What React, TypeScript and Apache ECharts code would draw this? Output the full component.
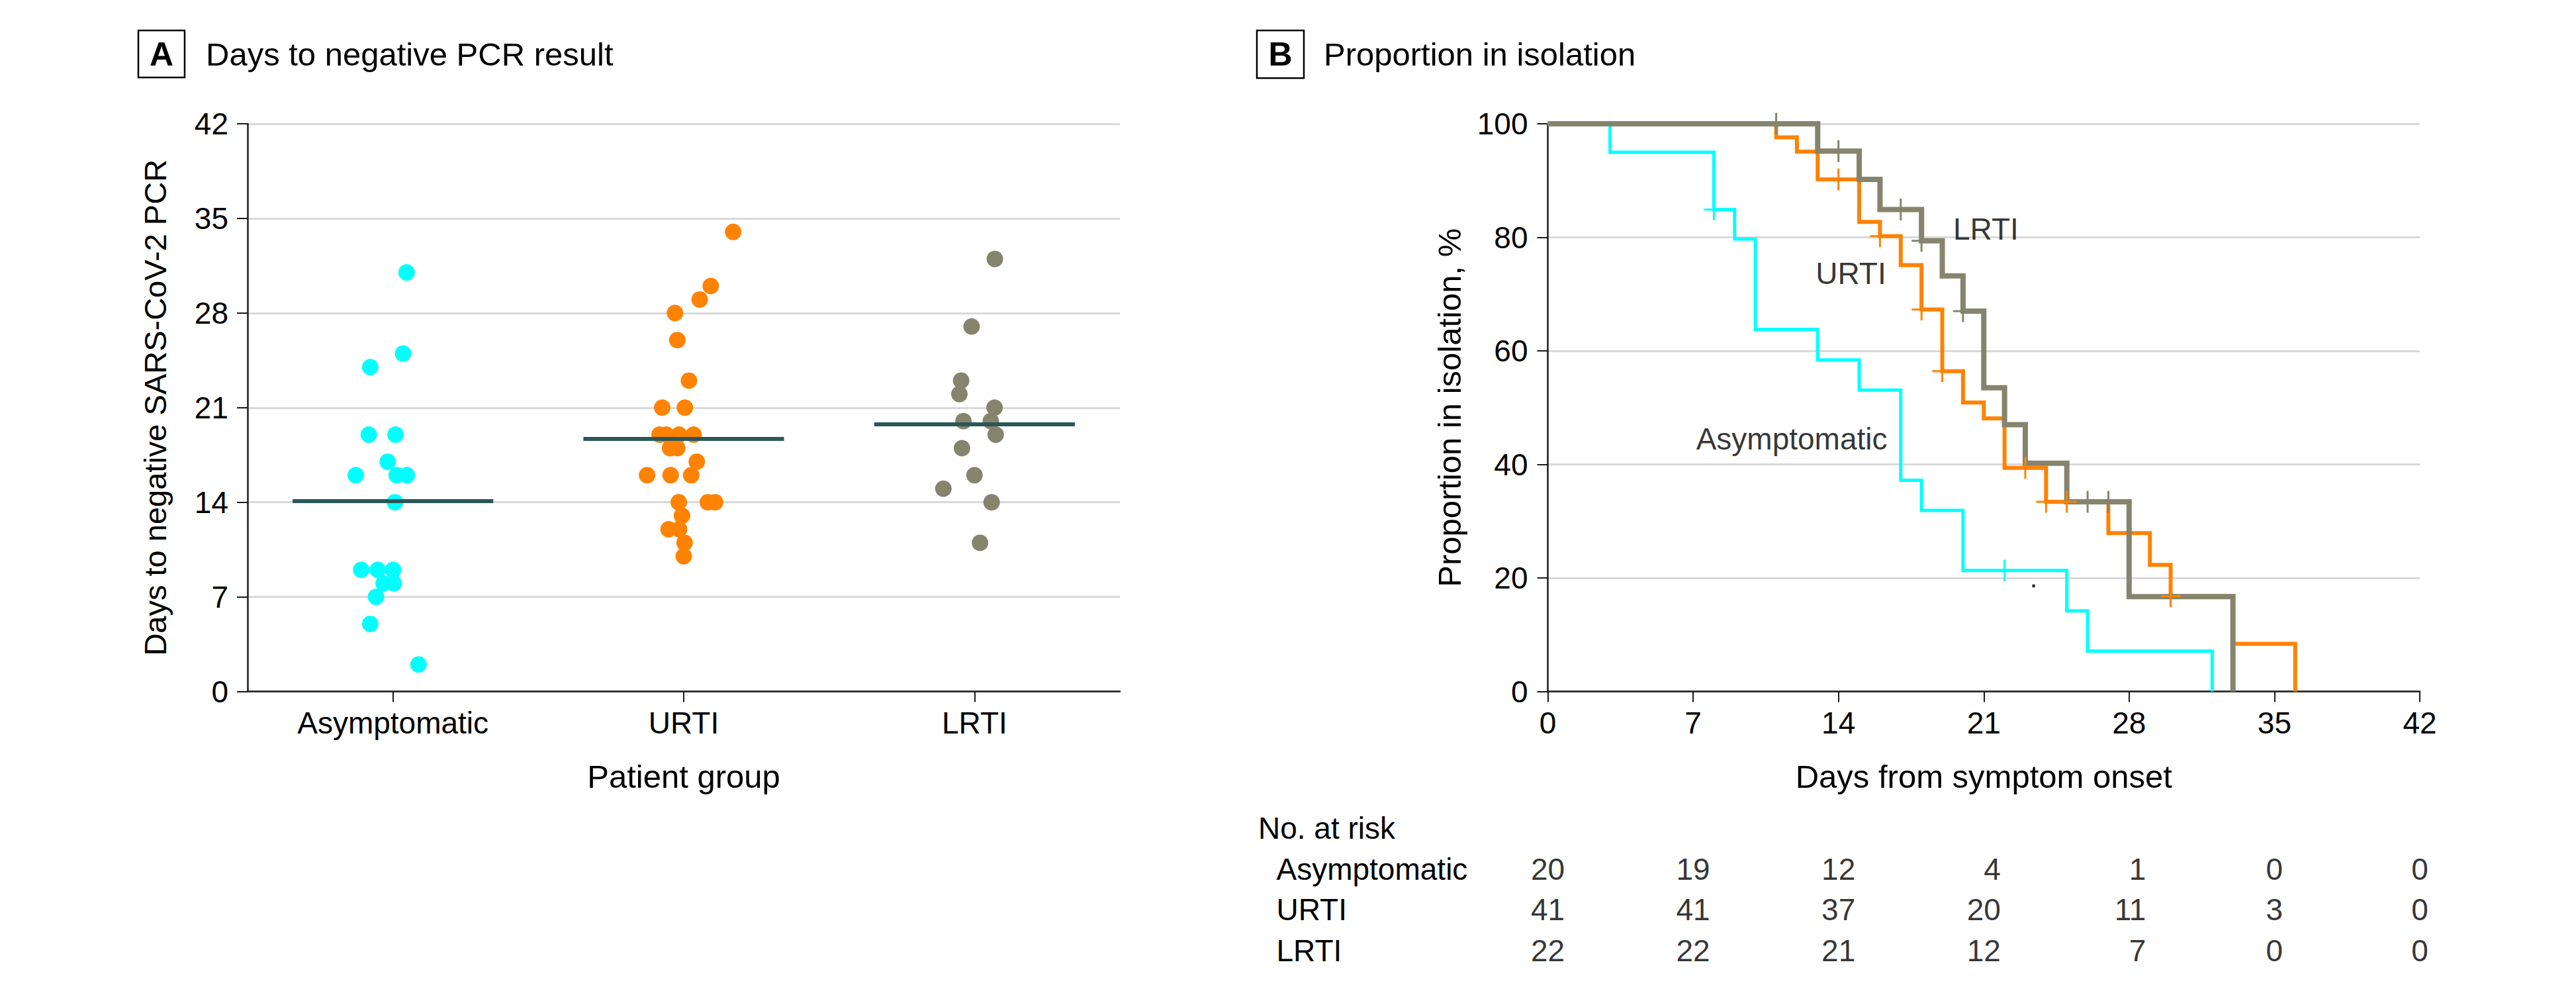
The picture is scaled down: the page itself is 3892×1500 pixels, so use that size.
import React, { useEffect, useRef } from "react";
import * as echarts from "echarts";

// ---------- Panel A data ----------
const groups = ["Asymptomatic", "URTI", "LRTI"];
const asymDays = [31, 25, 24, 19, 19, 17, 16, 16, 16, 14, 9, 9, 9, 8, 8, 7, 5, 2];
const asymJitter = [0.047, 0.035, -0.078, -0.083, 0.009, -0.018, -0.128, 0.013, 0.048, 0.007, -0.109, -0.052, 0.001, -0.032, 0.003, -0.058, -0.078, 0.088];
const urtiDays = [34, 30, 29, 28, 26, 23, 21, 21, 19, 19, 19, 19, 18, 18, 17, 16, 16, 16, 14, 14, 14, 13, 12, 12, 11, 10];
const urtiJitter = [0.17, 0.093, 0.055, -0.03, -0.022, 0.018, -0.074, 0.004, -0.083, -0.06, -0.016, 0.034, -0.047, -0.022, 0.045, -0.126, -0.045, 0.026, -0.017, 0.083, 0.108, -0.006, -0.052, -0.016, 0.003, 0.0];
const lrtiDays = [32, 27, 23, 22, 21, 20, 20, 19, 18, 16, 15, 14, 11];
const lrtiJitter = [0.07, -0.01, -0.046, -0.052, 0.069, -0.038, 0.056, 0.073, -0.043, 0.0, -0.107, 0.059, 0.019];
const groupMeans = [14.1, 18.7, 19.8];

// ---------- Panel B data (Kaplan-Meier) ----------
const kmAsymTime = [0, 3, 8, 9, 10, 13, 15, 17, 18, 20, 25, 26, 32];
const kmAsymSurv = [100, 95.0, 84.9, 79.7, 63.8, 58.4, 53.1, 37.2, 31.9, 21.3, 14.2, 7.1, 0];
const kmUrtiTime = [0, 11, 12, 13, 15, 16, 17, 18, 19, 20, 21, 22, 24, 27, 29, 30, 33, 36];
const kmUrtiSurv = [100, 97.6, 95.1, 90.2, 82.7, 80.2, 75.1, 67.3, 56.4, 50.9, 48.1, 39.4, 33.4, 27.9, 22.3, 16.8, 8.4, 0];
const kmLrtiTime = [0, 13, 15, 16, 18, 19, 20, 21, 22, 23, 25, 28, 33];
const kmLrtiSurv = [100, 95.2, 90.2, 84.9, 79.4, 73.2, 67.0, 53.5, 47.0, 40.2, 33.4, 16.7, 0];

const censorAsymTime = [8, 22];
const censorAsymSurv = [84.9, 21.3];
const censorUrtiTime = [14, 16, 18, 19, 23, 24, 25, 30];
const censorUrtiSurv = [90.2, 80.2, 67.3, 56.4, 39.4, 33.4, 33.4, 16.8];
const censorLrtiTime = [11, 14, 17, 18, 20, 26, 27];
const censorLrtiSurv = [100, 95.2, 84.9, 79.4, 67.0, 33.4, 33.4];
const strayDot = [[23.4, 18.6]];

const curveLabels = ["LRTI", "URTI", "Asymptomatic"];
const curveLabelDay = [21.1, 14.6, 11.75];
const curveLabelPct = [81.5, 73.6, 44.5];

// ---------- Number at risk ----------
const riskTimes = [0, 7, 14, 21, 28, 35, 42];
const riskAsym = [20, 19, 12, 4, 1, 0, 0];
const riskUrti = [41, 41, 37, 20, 11, 3, 0];
const riskLrti = [22, 22, 21, 12, 7, 0, 0];

// ---------- styles ----------
const FONT = "'Liberation Sans', Arial, sans-serif";
const CYAN = "#00ffff";
const ORANGE = "#ff8200";
const GRAY = "#85846d";
const TEAL = "#2b5757";
const AXIS = "#1a1a1a";
const GRID = "#d9d9d9";
const TICK_FS = 46;
const NAME_FS = 49;
const TITLE_FS = 49;
const PLUS = "path://M13.5,0 H16.5 V15 H30 V18 H16.5 V33 H13.5 V18 H0 V15 H13.5 Z";

const zip = (a: number[], b: number[]) => a.map((v, i) => [v, b[i]]);

function buildOption() {
  const axisLine = { show: true, onZero: false, lineStyle: { color: AXIS, width: 2.5 } };
  const axisTick = { show: true, inside: false, length: 16, lineStyle: { color: AXIS, width: 2 } };
  const axisLabel = { color: "#000", fontSize: TICK_FS, fontFamily: FONT };
  const splitLine = { show: true, lineStyle: { color: GRID, width: 3 } };
  const nameStyle = { color: "#000", fontSize: NAME_FS, fontFamily: FONT };

  const riskRows = [riskAsym, riskUrti, riskLrti];
  const digitW = 0.556 * TICK_FS;
  const colOffset = riskTimes.map((_, j) => {
    const maxLen = Math.max(...riskRows.map((r) => String(r[j]).length));
    return (maxLen * digitW) / 2;
  });

  const scatterGroup = (days: number[], jit: number[], gi: number, color: string) => ({
    type: "scatter",
    xAxisIndex: 1,
    yAxisIndex: 0,
    symbol: "circle",
    symbolSize: 25,
    itemStyle: { color, opacity: 1 },
    data: days.map((d, k) => [gi + jit[k], d]),
    z: 3,
    silent: true,
  });

  const kmLine = (t: number[], s: number[], color: string, width: number, z: number) => ({
    type: "line",
    xAxisIndex: 2,
    yAxisIndex: 1,
    step: "end",
    symbol: "none",
    showSymbol: false,
    lineStyle: { color, width, join: "miter", cap: "butt" },
    data: zip(t, s),
    z,
    silent: true,
  });

  const censor = (t: number[], s: number[], color: string, z: number) => ({
    type: "scatter",
    xAxisIndex: 2,
    yAxisIndex: 1,
    symbol: PLUS,
    symbolSize: [30, 33],
    itemStyle: { color, opacity: 1 },
    data: zip(t, s),
    z,
    silent: true,
  });

  const riskSeries = riskRows.map((row, ri) => ({
    type: "scatter",
    xAxisIndex: 3,
    yAxisIndex: 2,
    symbolSize: 1,
    itemStyle: { color: "rgba(0,0,0,0)" },
    data: riskTimes.map((t, j) => ({
      value: [t, groups[ri], row[j]],
      label: { offset: [colOffset[j], 0] },
    })),
    label: {
      show: true,
      position: "inside",
      align: "right",
      verticalAlign: "middle",
      color: "#000",
      fontSize: TICK_FS,
      fontFamily: FONT,
      formatter: (p: any) => String(p.value[2]),
    },
    silent: true,
  }));

  return {
    animation: false,
    backgroundColor: "#ffffff",
    textStyle: { fontFamily: FONT },
    grid: [
      { left: 374, top: 187, width: 1318, bottom: 455.5 },
      { left: 2338.5, top: 187, width: 1317.5, bottom: 455.5 },
      { left: 2338.5, top: 1282, width: 1317.5, height: 184.5 },
    ],
    xAxis: [
      {
        type: "category",
        gridIndex: 0,
        data: groups,
        axisLine,
        axisTick: { ...axisTick, alignWithLabel: true },
        axisLabel: { ...axisLabel, margin: 24 },
        splitLine: { show: false },
        name: "Patient group",
        nameLocation: "middle",
        nameGap: 104,
        nameTextStyle: nameStyle,
      },
      { type: "value", gridIndex: 0, min: -0.5, max: 2.5, show: false },
      {
        type: "value",
        gridIndex: 1,
        min: 0,
        max: 42,
        interval: 7,
        axisLine,
        axisTick,
        axisLabel: { ...axisLabel, margin: 24 },
        splitLine: { show: false },
        name: "Days from symptom onset",
        nameLocation: "middle",
        nameGap: 104,
        nameTextStyle: nameStyle,
      },
      { type: "value", gridIndex: 2, min: 0, max: 42, show: false },
    ],
    yAxis: [
      {
        type: "value",
        gridIndex: 0,
        min: 0,
        max: 42,
        interval: 7,
        axisLine,
        axisTick,
        axisLabel: { ...axisLabel, margin: 29 },
        splitLine,
        name: "Days to negative SARS-CoV-2 PCR",
        nameLocation: "middle",
        nameGap: 116,
        nameTextStyle: { ...nameStyle, fontSize: 47 },
      },
      {
        type: "value",
        gridIndex: 1,
        min: 0,
        max: 100,
        interval: 20,
        axisLine,
        axisTick,
        axisLabel: { ...axisLabel, margin: 30 },
        splitLine,
        name: "Proportion in isolation, %",
        nameLocation: "middle",
        nameGap: 124,
        nameTextStyle: nameStyle,
      },
      {
        type: "category",
        gridIndex: 2,
        inverse: true,
        data: groups,
        axisLine: { show: false },
        axisTick: { show: false },
        splitLine: { show: false },
        axisLabel: { ...axisLabel, align: "left", margin: 410 },
      },
    ],
    graphic: [
      { type: "rect", shape: { x: 209, y: 46, width: 70, height: 71 }, style: { fill: "none", stroke: "#000", lineWidth: 2.5 } },
      { type: "text", x: 244, y: 82, style: { text: "A", fontSize: 50, fontWeight: "bold", fontFamily: FONT, fill: "#000", textAlign: "center", textVerticalAlign: "middle" } },
      { type: "text", x: 311, y: 82, style: { text: "Days to negative PCR result", fontSize: TITLE_FS, fontFamily: FONT, fill: "#000", textAlign: "left", textVerticalAlign: "middle" } },
      { type: "rect", shape: { x: 1899, y: 46, width: 71, height: 72 }, style: { fill: "none", stroke: "#000", lineWidth: 2.5 } },
      { type: "text", x: 1934.5, y: 82, style: { text: "B", fontSize: 50, fontWeight: "bold", fontFamily: FONT, fill: "#000", textAlign: "center", textVerticalAlign: "middle" } },
      { type: "text", x: 2000, y: 82, style: { text: "Proportion in isolation", fontSize: TITLE_FS, fontFamily: FONT, fill: "#000", textAlign: "left", textVerticalAlign: "middle" } },
      { type: "text", x: 1901, y: 1251, style: { text: "No. at risk", fontSize: TICK_FS, fontFamily: FONT, fill: "#000", textAlign: "left", textVerticalAlign: "middle" } },
    ],
    series: [
      scatterGroup(asymDays, asymJitter, 0, CYAN),
      scatterGroup(urtiDays, urtiJitter, 1, ORANGE),
      scatterGroup(lrtiDays, lrtiJitter, 2, GRAY),
      {
        type: "lines",
        coordinateSystem: "cartesian2d",
        xAxisIndex: 1,
        yAxisIndex: 0,
        lineStyle: { color: TEAL, width: 6, opacity: 1, cap: "butt" },
        data: groupMeans.map((m, i) => ({ coords: [[i - 0.345, m], [i + 0.345, m]] })),
        z: 4,
        silent: true,
      },
      kmLine(kmAsymTime, kmAsymSurv, CYAN, 5, 3),
      kmLine(kmUrtiTime, kmUrtiSurv, ORANGE, 6, 4),
      kmLine(kmLrtiTime, kmLrtiSurv, GRAY, 8, 5),
      censor(censorAsymTime, censorAsymSurv, CYAN, 6),
      censor(censorUrtiTime, censorUrtiSurv, ORANGE, 6),
      censor(censorLrtiTime, censorLrtiSurv, GRAY, 7),
      {
        type: "scatter",
        xAxisIndex: 2,
        yAxisIndex: 1,
        symbolSize: 5,
        itemStyle: { color: "#000" },
        data: strayDot,
        silent: true,
      },
      {
        type: "scatter",
        xAxisIndex: 2,
        yAxisIndex: 1,
        symbolSize: 1,
        itemStyle: { color: "rgba(0,0,0,0)" },
        data: curveLabels.map((n, i) => ({ name: n, value: [curveLabelDay[i], curveLabelPct[i]] })),
        label: {
          show: true,
          position: "inside",
          formatter: "{b}",
          color: "#000",
          fontSize: TICK_FS,
          fontFamily: FONT,
        },
        z: 8,
        silent: true,
      },
      ...riskSeries,
    ],
  };
}

export default function App() {
  const ref = useRef<HTMLDivElement>(null);
  useEffect(() => {
    if (!ref.current) return;
    const chart = echarts.init(ref.current, null, { renderer: "svg" });
    chart.setOption(buildOption() as any);
    return () => chart.dispose();
  }, []);
  return (
    <div
      ref={ref}
      style={{ position: "absolute", left: 0, top: 0, width: 3892, height: 1500, background: "#fff" }}
    />
  );
}
